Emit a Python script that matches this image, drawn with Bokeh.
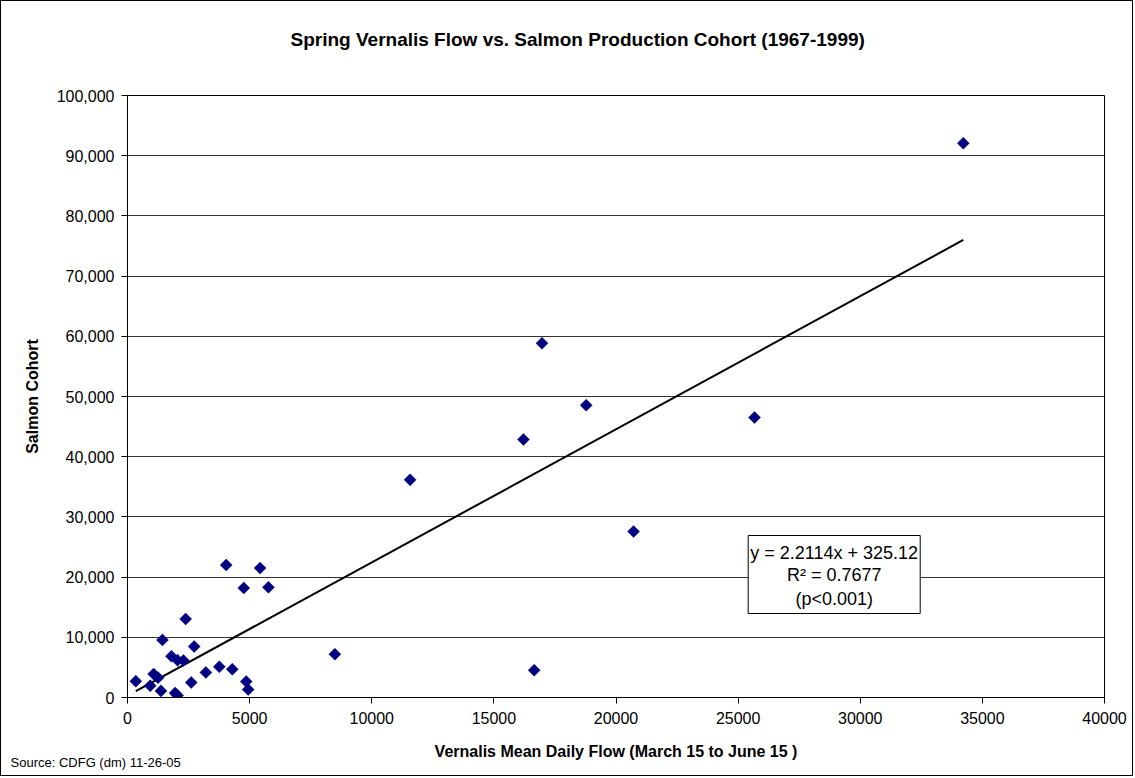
from bokeh.plotting import figure
from bokeh.models import Range1d, FixedTicker, NumeralTickFormatter, Label, BoxAnnotation, ColumnDataSource, Title
from bokeh.embed import file_html
from bokeh.resources import INLINE
import math

# ---- data ----
flow = [340, 930, 1070, 1250, 1370, 1430, 1800, 1950, 2050, 2050, 2290, 2380,
        2610, 2730, 3210, 3760, 4040, 4290, 4760, 4860, 4940, 5430, 5770,
        8490, 11570, 16210, 16650, 16970, 18780, 20720, 25670, 34220]
cohort = [2700, 1950, 3900, 3300, 1100, 9570, 6850, 750, 350, 6200, 6150, 13050,
          2500, 8460, 4170, 5100, 22000, 4700, 18200, 2650, 1330, 21500, 18300,
          7190, 36160, 42860, 4540, 58850, 48550, 27570, 46510, 92080]
slope = 2.2114
intercept = 325.12
eq_lines = ["y = 2.2114x + 325.12", "R\u00b2 = 0.7677", "(p<0.001)"]
x_ticks = [0, 5000, 10000, 15000, 20000, 25000, 30000, 35000, 40000]
y_ticks = [0, 10000, 20000, 30000, 40000, 50000, 60000, 70000, 80000, 90000, 100000]

title_text = "Spring Vernalis Flow vs. Salmon Production Cohort (1967-1999)"
x_label = "Vernalis Mean Daily Flow (March 15 to June 15 )"
y_label = "Salmon Cohort"
source_text = "Source: CDFG (dm) 11-26-05"

FONT = "Liberation Sans"

p = figure(width=1133, height=776, output_backend="svg", toolbar_location=None,
           x_range=Range1d(0, 40000), y_range=Range1d(0, 100000),
           min_border_left=126, min_border_right=30, min_border_top=94, min_border_bottom=80)
p.styles = {"border": "1px solid black"}
p.background_fill_color = "white"
p.border_fill_color = "white"
p.outline_line_color = "black"
p.outline_line_width = 1

p.title = Title(text=title_text, align="left", offset=163, text_font=FONT,
                text_font_style="bold", text_font_size="19px", text_color="black", standoff=0)
# blank spacer between the frame and the title
p.add_layout(Title(text=" ", text_font_size="40px", standoff=0), "above")

p.xgrid.visible = False
p.ygrid.grid_line_color = "#333333"
p.ygrid.grid_line_width = 1
p.ygrid.ticker = FixedTicker(ticks=y_ticks)

p.xaxis.ticker = FixedTicker(ticks=x_ticks)
p.yaxis.ticker = FixedTicker(ticks=y_ticks)
p.yaxis.formatter = NumeralTickFormatter(format="0,0")
for ax in (p.xaxis, p.yaxis):
    ax.axis_line_color = "black"
    ax.major_tick_line_color = "black"
    ax.major_tick_in = 0
    ax.major_tick_out = 6
    ax.minor_tick_line_color = None
    ax.major_label_text_font = FONT
    ax.major_label_text_font_size = "16px"
    ax.major_label_text_color = "black"
    ax.axis_label_text_font = FONT
    ax.axis_label_text_font_style = "bold"
    ax.axis_label_text_font_size = "16px"
    ax.axis_label_text_color = "black"

p.xaxis.axis_label = x_label
p.yaxis.axis_label = y_label
p.xaxis.major_label_standoff = 8
p.yaxis.major_label_standoff = 7
p.xaxis.axis_label_standoff = 16
p.yaxis.axis_label_standoff = 13

# source note, below the x axis, at the left edge of the chart
src_title = Title(text=source_text, align="left", offset=-117, vertical_align="top",
                  text_font=FONT, text_font_style="normal", text_font_size="13px",
                  text_color="black", standoff=0)
try:
    src_title.standoff = -16
except Exception:
    src_title.standoff = 0
    p.xaxis.axis_label_standoff = 12
p.add_layout(src_title, "below")

# trend line
tx = [min(flow), max(flow)]
ty = [slope * v + intercept for v in tx]
p.line(tx, ty, line_color="black", line_width=2)

# points (diamonds)
src = ColumnDataSource(dict(x=flow, y=cohort))
p.scatter("x", "y", source=src, marker="square", size=8.5, angle=math.pi / 4,
          fill_color="#000080", line_color="#000080", line_width=0.5)

# equation box
box = BoxAnnotation(left=25412, right=32454, top=26910, bottom=13953,
                    fill_color="white", fill_alpha=1.0, line_color="black", line_alpha=1.0,
                    line_width=1, level="annotation")
p.add_layout(box)
for txt, yy in zip(eq_lines, [24086, 20266, 16445]):
    p.add_layout(Label(x=28934, y=yy, text=txt, text_align="center", text_baseline="middle",
                       text_font=FONT, text_font_size="18px", text_color="black"))

html = file_html(p, INLINE, title="Spring Vernalis Flow vs. Salmon Production Cohort")
html = html.replace("<head>", "<head><style>html,body{margin:0;padding:0;}</style>", 1)
open("out.html", "w").write(html)
